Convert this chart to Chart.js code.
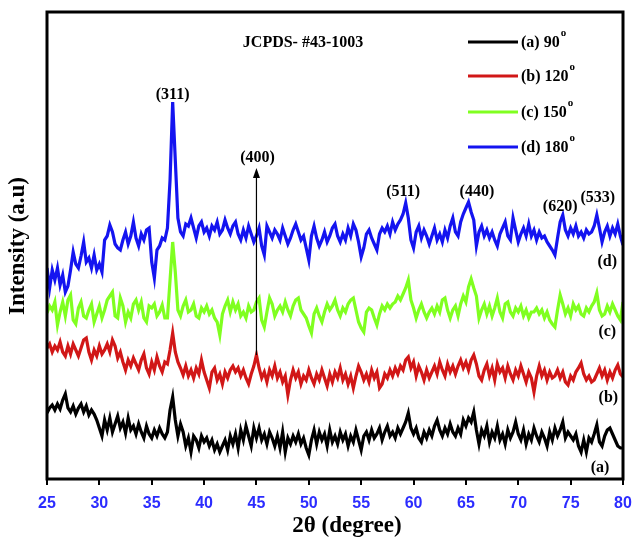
<!DOCTYPE html>
<html>
<head>
<meta charset="utf-8">
<script src="https://cdn.jsdelivr.net/npm/chart.js@4.4.1/dist/chart.umd.min.js"></script>
<style>
html,body{margin:0;padding:0;background:#fff;}
#wrap{width:633px;height:539px;}
</style>
</head>
<body>
<div id="wrap"><canvas id="c" width="633" height="539"></canvas></div>
<script>
// 2θ grid (degrees), 25 → 80 in 0.25° steps
const twoTheta = Array.from({length: 221}, (_, i) => 25 + i * 0.25);

// Intensities (a.u., with vertical stacking offsets as plotted)
const seriesA_90 = [
  66,71,74,69,75,70,79,85,71,67,73,65,71,75,67,73,64,69,65,59,
  51,43,59,49,61,47,55,63,51,57,46,61,49,53,45,55,47,41,53,45,
  41,49,43,51,45,41,47,69,82,59,43,55,47,33,41,27,43,39,31,43,
  37,41,33,39,29,35,27,33,39,29,43,35,45,31,49,39,53,43,33,51,
  41,51,39,45,35,47,41,33,43,31,47,27,41,35,43,37,45,35,41,31,
  24,39,49,35,47,39,45,33,49,37,43,35,47,39,45,33,43,37,49,39,
  29,43,47,39,49,41,45,51,39,47,53,43,47,41,51,45,51,57,66,51,
  45,51,41,37,47,41,49,43,53,59,49,43,51,45,55,47,43,51,45,59,
  53,61,57,67,49,35,49,43,53,37,47,41,53,39,45,35,49,41,47,57,
  45,39,49,35,45,39,51,43,37,47,41,33,47,39,51,43,49,57,41,47,
  43,39,45,33,27,39,27,41,37,45,54,37,33,43,49,51,45,39,33,31,
  31
];
const seriesB_120 = [
  131,135,127,133,129,137,127,123,133,125,135,129,123,131,139,141,127,119,129,123,
  133,125,129,135,127,139,133,121,127,117,109,119,113,121,115,109,119,125,111,105,
  117,109,122,113,107,117,115,129,146,127,117,111,104,113,103,109,101,111,105,119,
  107,99,91,107,111,99,105,95,107,101,109,113,107,111,103,109,101,95,105,113,
  124,111,101,107,97,109,103,113,101,107,97,103,84,99,109,101,107,95,103,99,
  109,101,95,105,99,109,101,93,105,97,107,101,111,99,105,95,103,91,103,113,
  107,99,105,97,109,101,107,91,95,105,101,109,103,111,105,113,109,119,122,111,
  117,103,113,107,99,109,101,107,113,105,117,109,103,115,107,113,105,113,119,111,
  117,109,119,124,115,103,99,109,115,103,111,99,115,107,111,101,113,105,99,109,
  103,113,105,97,107,101,87,103,113,103,109,99,107,101,103,109,101,107,97,94,
  103,99,107,111,116,105,99,103,97,99,105,111,103,109,99,107,101,109,114,105,
  102
];
const seriesC_150 = [
  166,173,169,177,154,167,177,163,179,184,159,155,171,177,163,161,169,175,157,165,
  173,161,169,179,183,187,163,161,181,173,157,167,161,175,179,169,177,161,157,173,
  171,175,163,167,174,161,161,199,237,207,169,163,173,179,167,169,175,163,161,171,
  167,173,165,169,161,157,144,165,173,179,167,177,169,175,163,167,161,173,167,169,
  177,181,159,152,167,181,175,163,169,173,167,177,169,163,173,179,181,169,165,161,
  153,146,165,171,163,157,167,175,169,173,179,169,163,171,167,175,179,181,169,157,
  151,147,167,171,169,161,154,165,173,169,175,171,175,177,183,179,185,191,199,179,
  171,161,169,175,167,161,167,171,165,173,167,179,181,169,161,169,173,163,175,183,
  177,192,200,191,183,161,169,175,165,173,163,171,181,167,161,175,177,167,163,171,
  167,173,163,169,161,167,167,171,165,169,161,167,159,155,152,169,184,175,165,171,
  163,175,169,173,165,163,171,167,173,177,186,169,163,165,173,167,175,169,163,159,
  177
];
const seriesD_180 = [
  211,191,209,199,211,194,204,187,193,209,227,215,211,223,237,217,221,211,224,209,
  215,207,239,243,254,247,235,231,229,239,247,235,243,257,241,233,245,239,249,251,
  217,201,229,233,241,239,251,299,377,319,261,247,243,255,253,261,251,241,253,257,
  247,251,243,253,249,257,245,249,259,251,245,253,257,245,239,249,241,253,245,237,
  243,251,233,224,253,247,241,249,245,239,251,243,235,241,249,255,247,239,243,231,
  219,243,253,241,233,239,247,237,243,251,255,243,237,245,239,251,243,255,249,237,
  222,231,245,249,241,235,229,245,251,247,253,245,257,249,255,259,265,276,261,239,
  231,247,253,241,249,243,235,243,251,239,245,237,249,241,253,261,247,243,257,265,
  271,277,267,259,233,247,253,243,249,241,247,239,233,245,251,257,243,239,261,249,
  237,245,251,243,255,243,249,239,247,241,243,237,233,229,224,241,257,264,249,243,
  251,245,253,243,247,241,249,245,247,253,264,251,237,247,253,243,251,245,255,243,
  234
];

const seriesNames = ['(a) 90', '(b) 120', '(c) 150', '(d) 180'];
const seriesTags = ['(a)', '(b)', '(c)', '(d)'];
const xTicks = [25, 30, 35, 40, 45, 50, 55, 60, 65, 70, 75, 80];
const xTitle = '2θ (degree)';
const yTitle = 'Intensity (a.u)';

// Peak (hkl) annotations
const peakLabels = ['(311)', '(400)', '(511)', '(440)', '(620)', '(533)'];
const peakTheta  = [37.0, 45.1, 59.0, 66.05, 74.0, 77.6];
const peakTextY  = [384, 321, 287, 287, 272, 281];
const arrowTheta = 45.0;
const arrowFromY = 124;
const arrowToY   = 311;
const cardText = 'JCPDS- #43-1003';

const colors = ['#000000', '#d11717', '#80ff20', '#1414f0'];
const seriesValues = [seriesA_90, seriesB_120, seriesC_150, seriesD_180];

// positions for tags (data coords)
const tagPos = [[77.8, 11], [78.6, 81], [78.5, 147], [78.5, 217]];

const overlay = {
  id: 'overlay',
  afterDatasetsDraw(chart) {
    const {ctx, chartArea: a, scales: {x, y}} = chart;
    ctx.save();
    // arrow
    const ax = x.getPixelForValue(arrowTheta);
    const y0 = y.getPixelForValue(arrowFromY);
    const y1 = y.getPixelForValue(arrowToY);
    ctx.strokeStyle = '#000'; ctx.fillStyle = '#000'; ctx.lineWidth = 1.2;
    ctx.beginPath(); ctx.moveTo(ax, y0); ctx.lineTo(ax, y1 + 8); ctx.stroke();
    ctx.beginPath(); ctx.moveTo(ax, y1); ctx.lineTo(ax - 3.5, y1 + 10); ctx.lineTo(ax + 3.5, y1 + 10); ctx.closePath(); ctx.fill();

    ctx.textAlign = 'center'; ctx.textBaseline = 'middle';
    ctx.font = 'bold 16px "Liberation Serif"';
    peakLabels.forEach((t, i) => ctx.fillText(t, x.getPixelForValue(peakTheta[i]), y.getPixelForValue(peakTextY[i])));
    seriesTags.forEach((t, i) => ctx.fillText(t, x.getPixelForValue(tagPos[i][0]), y.getPixelForValue(tagPos[i][1])));
    ctx.fillText(cardText, x.getPixelForValue(49.45), y.getPixelForValue(436));

    // axis titles
    ctx.font = 'bold 23px "Liberation Serif"';
    ctx.fillText(xTitle, 347, 526);
    ctx.save();
    ctx.translate(18, 246); ctx.rotate(-Math.PI / 2);
    ctx.fillText(yTitle, 0, 0);
    ctx.restore();

    // legend
    const ly = [42, 76, 112, 147];
    ctx.textAlign = 'left';
    seriesNames.forEach((n, i) => {
      ctx.strokeStyle = colors[i]; ctx.lineWidth = 2.8;
      ctx.beginPath(); ctx.moveTo(468, ly[i]); ctx.lineTo(518, ly[i]); ctx.stroke();
      ctx.font = 'bold 16px "Liberation Serif"'; ctx.fillStyle = '#000';
      ctx.fillText(n, 521, ly[i] + 1);
      const w = ctx.measureText(n).width;
      ctx.font = 'bold 11px "Liberation Serif"';
      ctx.fillText('o', 521 + w + 1, ly[i] - 9);
    });

    // frame
    ctx.strokeStyle = '#000'; ctx.lineWidth = 3;
    ctx.strokeRect(a.left, a.top, a.right - a.left, a.bottom - a.top);
    ctx.restore();
  }
};

new Chart(document.getElementById('c'), {
  type: 'line',
  data: {
    datasets: seriesValues.map((vals, i) => ({
      label: seriesNames[i],
      data: twoTheta.map((t, k) => ({x: t, y: vals[k]})),
      borderColor: colors[i],
      backgroundColor: colors[i],
      borderWidth: 3.2,
      pointRadius: 0,
      tension: 0,
      fill: false
    }))
  },
  options: {
    responsive: false,
    animation: false,
    devicePixelRatio: 1,
    layout: {padding: {top: 12, right: 10, left: 47, bottom: 0}},
    plugins: {legend: {display: false}, tooltip: {enabled: false}},
    scales: {
      x: {
        type: 'linear', min: 25, max: 80,
        afterBuildTicks: (s) => { s.ticks = xTicks.map(v => ({value: v})); },
        afterFit: (s) => { s.height = 60; s.paddingLeft = 0; s.paddingRight = 0; },
        ticks: {
          autoSkip: false, maxRotation: 0, padding: 9,
          color: '#2c2cff',
          font: {family: '"Liberation Sans"', weight: 'bold', size: 16}
        },
        grid: {display: true, drawOnChartArea: false, drawTicks: true, tickLength: 6, color: '#000', lineWidth: 2},
        border: {display: false},
        title: {display: false}
      },
      y: {
        display: false,
        min: 0, max: 467
      }
    }
  },
  plugins: [overlay]
});
</script>
</body>
</html>
